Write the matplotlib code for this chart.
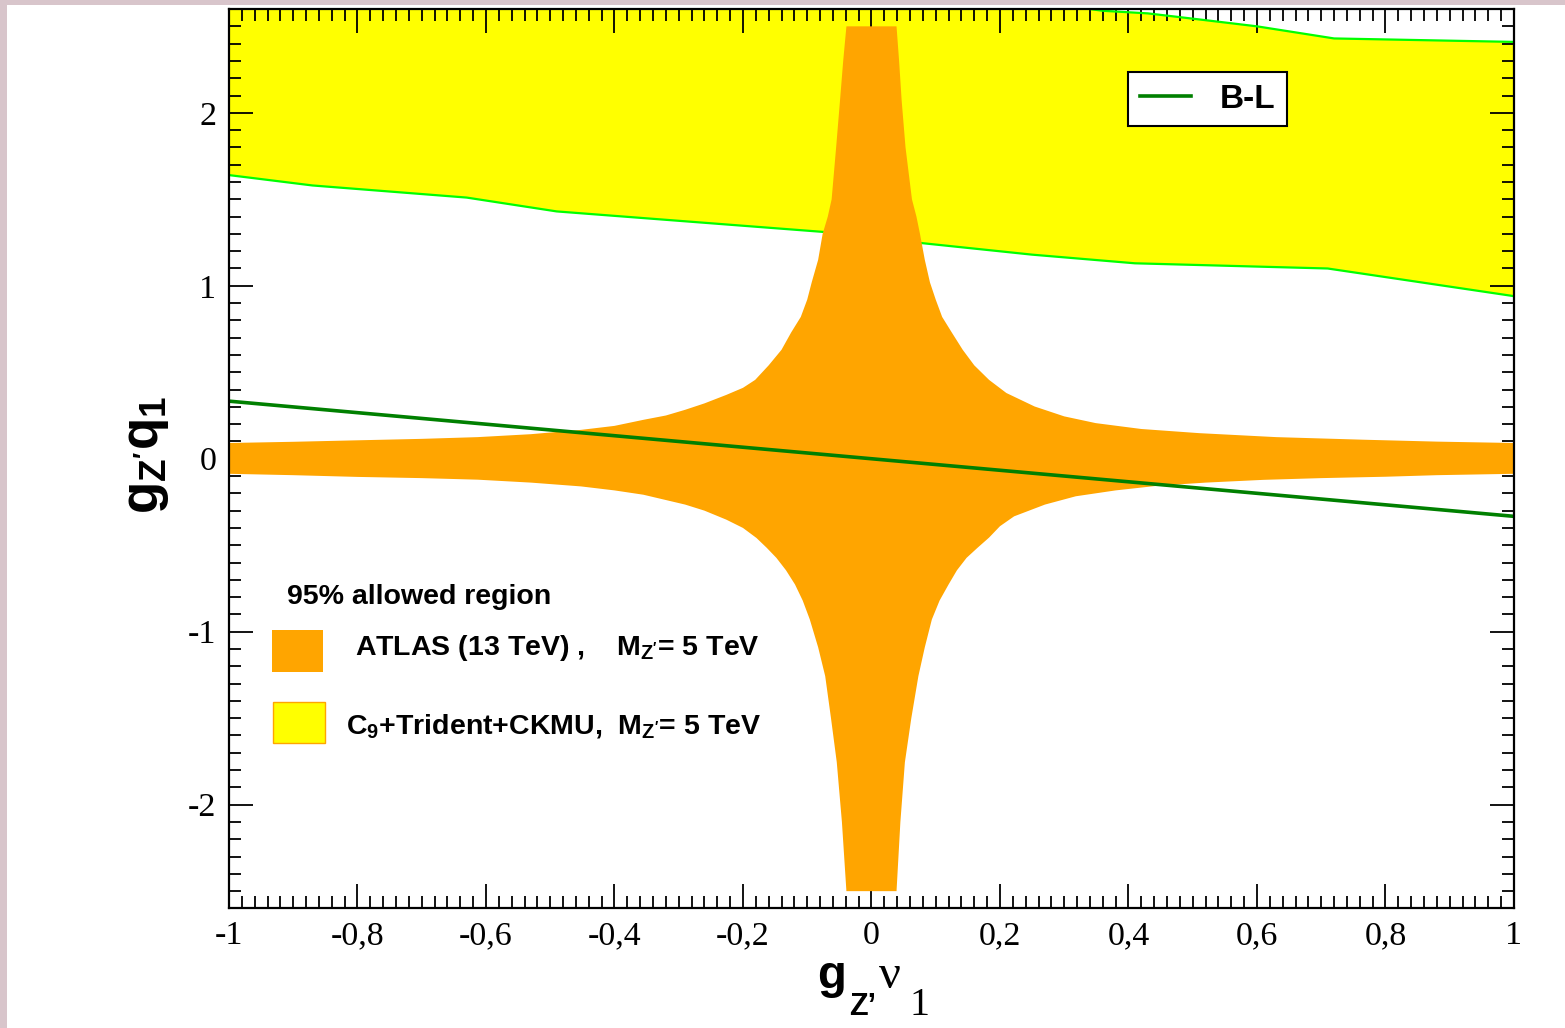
import numpy as np
import matplotlib
matplotlib.use('Agg')
import matplotlib.pyplot as plt
from matplotlib.patches import Rectangle
from matplotlib.ticker import MultipleLocator, FuncFormatter

plt.rcParams['font.family'] = ['Liberation Serif', 'DejaVu Serif']
plt.rcParams['mathtext.fontset'] = 'custom'
plt.rcParams['mathtext.rm'] = 'Liberation Serif'
plt.rcParams['mathtext.it'] = 'Liberation Serif:italic'
plt.rcParams['mathtext.bf'] = 'Liberation Sans:bold'
plt.rcParams['mathtext.sf'] = 'Liberation Sans'

# C9 + Trident + CKMU band (yellow), lower and upper edges
yel_low_x = [-1.0, -0.87, -0.63, -0.49, -0.07, 0.07, 0.25, 0.41, 0.71, 1.0]
yel_low_y = [1.64, 1.58, 1.51, 1.43, 1.31, 1.25, 1.18, 1.13, 1.10, 0.94]
yel_up_x = [-1.0, 0.30, 0.36, 0.43, 0.51, 0.60, 0.72, 1.0]
yel_up_y = [2.75, 2.62, 2.59, 2.575, 2.54, 2.50, 2.43, 2.41]

# ATLAS 13 TeV allowed region (orange), outline read clockwise from the top
atlas_x = [0.039, 0.043, 0.047, 0.053, 0.063, 0.070, 0.0755, 0.083, 0.091, 0.100,
           0.110, 0.125, 0.142, 0.160, 0.183, 0.210, 0.254, 0.30, 0.349, 0.42,
           0.510, 0.63, 0.766, 0.88, 1.0,
           1.0, 0.88, 0.80, 0.70, 0.61, 0.52, 0.446, 0.38, 0.318, 0.27,
           0.222, 0.20, 0.183, 0.165, 0.148, 0.133, 0.120, 0.106, 0.094, 0.083,
           0.073, 0.062, 0.052, 0.045, 0.039,
           -0.039, -0.046, -0.054, -0.063, -0.072, -0.083, -0.096, -0.107, -0.119, -0.133,
           -0.148, -0.163, -0.179, -0.200, -0.226, -0.26, -0.290, -0.355, -0.40, -0.452,
           -0.53, -0.613, -0.70, -0.80, -0.90, -1.0,
           -1.0, -0.90, -0.807, -0.70, -0.613, -0.53, -0.452, -0.40, -0.355, -0.32,
           -0.290, -0.26, -0.226, -0.20, -0.181, -0.160, -0.140, -0.125, -0.110, -0.100,
           -0.093, -0.083, -0.076, -0.068, -0.062, -0.055, -0.049, -0.044, -0.039]
atlas_y = [2.50, 2.30, 2.07, 1.80, 1.50, 1.40, 1.30, 1.15, 1.02, 0.92,
           0.82, 0.73, 0.63, 0.54, 0.456, 0.38, 0.302, 0.245, 0.206, 0.172,
           0.148, 0.125, 0.110, 0.099, 0.091,
           -0.087, -0.095, -0.104, -0.112, -0.122, -0.138, -0.156, -0.183, -0.217, -0.265,
           -0.333, -0.39, -0.456, -0.515, -0.573, -0.645, -0.727, -0.82, -0.929, -1.09,
           -1.257, -1.50, -1.755, -2.10, -2.50,
           -2.50, -2.10, -1.755, -1.50, -1.257, -1.09, -0.929, -0.82, -0.727, -0.645,
           -0.573, -0.515, -0.458, -0.40, -0.352, -0.30, -0.265, -0.208, -0.183, -0.160,
           -0.138, -0.121, -0.112, -0.105, -0.095, -0.087,
           0.091, 0.098, 0.106, 0.115, 0.125, 0.142, 0.167, 0.19, 0.225, 0.25,
           0.283, 0.32, 0.369, 0.41, 0.456, 0.54, 0.63, 0.73, 0.82, 0.92,
           1.02, 1.15, 1.30, 1.40, 1.50, 1.80, 2.07, 2.30, 2.50]

# B-L benchmark line
bl_x = [-1.0, 1.0]
bl_y = [0.333, -0.333]

fig = plt.figure(figsize=(15.65, 10.28), dpi=100)
fig.patch.set_facecolor('#d8c5cb')
fig.add_artist(Rectangle((7 / 1565, 0), 1, 1 - 5 / 1028, transform=fig.transFigure,
                         facecolor='white', edgecolor='none', zorder=0))
ax = fig.add_axes([0.1463, 0.1163, 0.8211, 0.8749])

ax.fill(np.r_[yel_low_x, yel_up_x[::-1]], np.r_[yel_low_y, yel_up_y[::-1]],
        color='#ffff00', lw=0, zorder=1)
ax.plot(yel_low_x, yel_low_y, color='#00ff00', lw=1.6, zorder=2)
ax.plot(yel_up_x, yel_up_y, color='#00ff00', lw=1.6, zorder=2)
ax.fill(atlas_x, atlas_y, color='#ffa500', lw=0, zorder=3)
ax.plot(bl_x, bl_y, color='#008000', lw=2.6, zorder=4, label='B-L')

ax.set_xlim(-1, 1)
ax.set_ylim(-2.6, 2.6)
ax.xaxis.set_major_locator(MultipleLocator(0.2))
ax.xaxis.set_minor_locator(MultipleLocator(0.02))
ax.yaxis.set_major_locator(MultipleLocator(1))
ax.yaxis.set_minor_locator(MultipleLocator(0.1))
comma = FuncFormatter(lambda v, p: f'{round(v, 1) + 0:g}'.replace('.', ','))
ax.xaxis.set_major_formatter(comma)
ax.yaxis.set_major_formatter(comma)
ax.tick_params(which='both', direction='in', top=True, right=True, labelsize=24.5,
               pad=9, width=1.3, zorder=10)
ax.tick_params(which='major', length=17.5)
ax.tick_params(which='minor', length=8.5)
for s in ax.spines.values():
    s.set_linewidth(1.6)
    s.set_zorder(10)

# x label pieces: bold sans g with dropped Z', serif nu with dropped full-size 1
ax.set_xlabel('g', fontsize=34, family='Liberation Sans', weight='bold',
              ha='left', va='baseline')
ax.xaxis.set_label_coords(0.4575, -0.0885)
lab = dict(va='baseline', ha='left', transform=ax.transAxes, clip_on=False)
ax.text(0.4825, -0.1184, 'Z\u2019', fontsize=22, family='Liberation Sans',
        weight='bold', **lab)
ax.text(0.5055, -0.0885, '\u03bd', fontsize=35, **lab)
ax.text(0.5295, -0.1184, '1', fontsize=29, **lab)

ax.set_ylabel(r"$\mathbf{g_{Z'}q_1}$", fontsize=38)
ax.yaxis.set_label_coords(-0.045, 0.504)

leg = ax.legend(loc='upper left', bbox_to_anchor=(0.6996, 0.930), borderaxespad=0,
                fancybox=False, edgecolor='black', framealpha=1,
                prop={'family': 'Liberation Sans', 'weight': 'bold', 'size': 24},
                handlelength=1.55, handletextpad=0.85, borderpad=0.35)
leg.get_frame().set_linewidth(1.5)

# lower-left legend for the shaded regions
sans = dict(family='Liberation Sans', weight='bold', fontsize=20.5, va='baseline',
            transform=ax.transAxes, zorder=6)
ax.text(0.0451, 0.3385, '95% allowed region', **sans)
ax.add_patch(Rectangle((0.0335, 0.2629), 0.0397, 0.0467, transform=ax.transAxes,
                       facecolor='#ffa500', edgecolor='none', zorder=6))
ax.text(0.098, 0.2818, r"ATLAS (13 TeV) ,    $\mathbf{M_{Z'}}$= 5 TeV", **sans)
ax.add_patch(Rectangle((0.0342, 0.184), 0.0405, 0.0456, transform=ax.transAxes,
                       facecolor='#ffff00', edgecolor='#ffa500', lw=1, zorder=6))
ax.text(0.091, 0.194, r"$\mathbf{C_9}$+Trident+CKMU,  $\mathbf{M_{Z'}}$= 5 TeV", **sans)

fig.savefig('out.png', dpi=100, facecolor=fig.get_facecolor())
